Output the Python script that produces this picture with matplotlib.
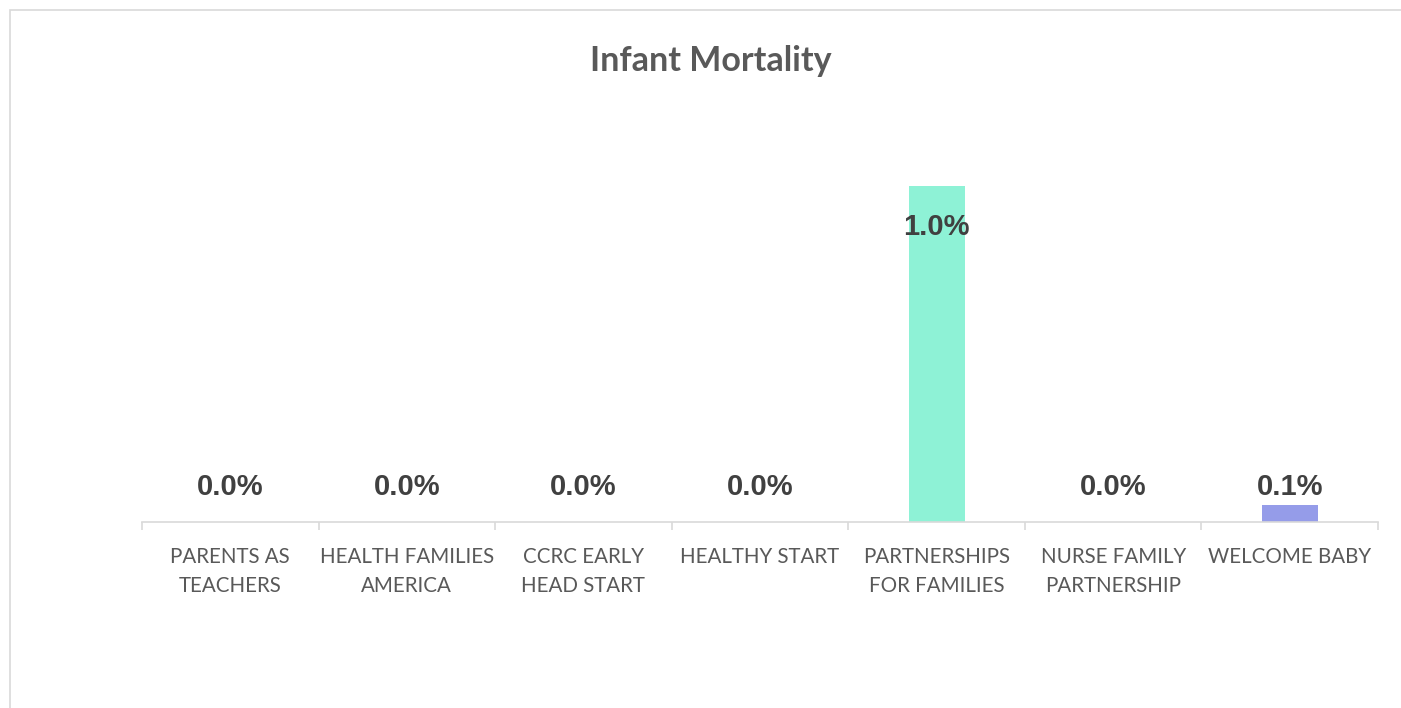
import numpy as np
import matplotlib.pyplot as plt
from matplotlib.patches import Rectangle

programs = ["PARENTS AS\nTEACHERS", "HEALTH FAMILIES\nAMERICA", "CCRC EARLY\nHEAD START",
            "HEALTHY START", "PARTNERSHIPS\nFOR FAMILIES", "NURSE FAMILY\nPARTNERSHIP",
            "WELCOME BABY"]
mortality_pct = [0.0, 0.0, 0.0, 0.0, 1.0, 0.0, 0.05]
bar_colors = ["#8EF2D6"] * 6 + ["#959CE9"]

W, H = 1401, 708
fig = plt.figure(figsize=(W / 100, H / 100), dpi=100)

# chart area frame (cut off at right/bottom like the screenshot)
fig.patches.append(Rectangle((10 / W, -0.1), 1.2, (H - 10) / H + 0.1,
                             transform=fig.transFigure, fill=False,
                             edgecolor="#d9d9d9", linewidth=1.2))

left, right, base, top = 142, 1378, 522, 150
ax = fig.add_axes([left / W, (H - base) / H, (right - left) / W, (base - top) / H])

x = np.arange(len(programs))
ax.bar(x, mortality_pct, width=0.317, color=bar_colors, zorder=2)
ax.set_xlim(-0.5, len(programs) - 0.5)
ax.set_ylim(0, (base - top) / (base - 186))

for s in ["top", "right", "left"]:
    ax.spines[s].set_visible(False)
ax.spines["bottom"].set_color("#d9d9d9")
ax.spines["bottom"].set_linewidth(1.2)
ax.set_yticks([])

ax.set_xticks(np.arange(len(programs) + 1) - 0.5, minor=True)
ax.set_xticks(x)
ax.set_xticklabels(programs, fontsize=14.8, color="#595959", family="Lato", linespacing=1.55)
ax.tick_params(axis="x", which="major", length=0, pad=18)
ax.tick_params(axis="x", which="minor", length=6, color="#d9d9d9", width=1.2)

for xi, v in zip(x, mortality_pct):
    if v > 0.5:
        ax.annotate(f"{v:.1f}%", (xi, v), xytext=(0, -41 * 0.72), textcoords="offset points",
                    ha="center", va="center", fontsize=21, fontweight="bold",
                    color="#404040", family="Liberation Sans")
    else:
        ax.annotate(f"{v:.1f}%", (xi, 0), xytext=(0, 35 * 0.72), textcoords="offset points",
                    ha="center", va="center", fontsize=21, fontweight="bold",
                    color="#404040", family="Liberation Sans")

fig.text(711 / W, 1 - 61 / H, "Infant Mortality", ha="center", va="center",
         fontsize=24.5, fontweight="bold", color="#595959", family="Lato")

fig.savefig("out.png", dpi=100)
